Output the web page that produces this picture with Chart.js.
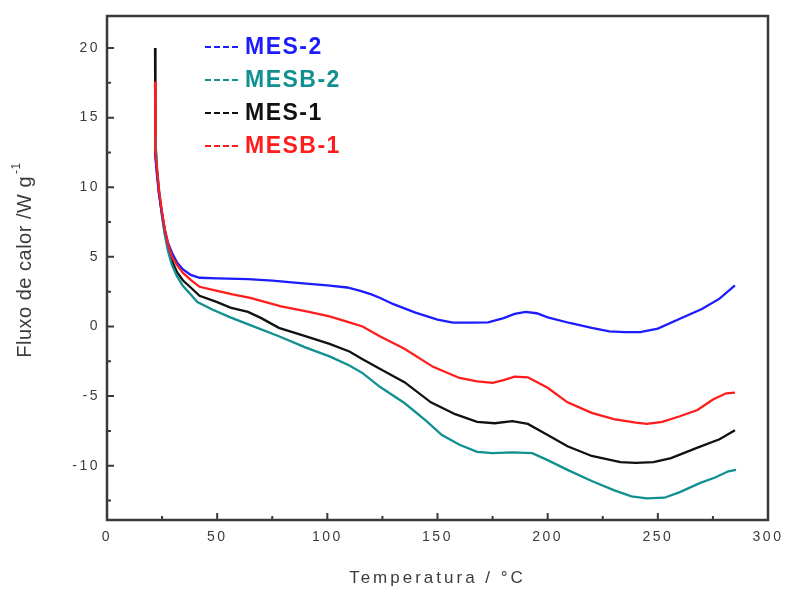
<!DOCTYPE html>
<html>
<head>
<meta charset="utf-8">
<script src="https://cdn.jsdelivr.net/npm/chart.js@4/dist/chart.umd.min.js"></script>
<style>
  html, body { margin: 0; padding: 0; background: #ffffff; }
  #wrap { width: 785px; height: 591px; }
</style>
</head>
<body>
<div id="wrap"><canvas id="c" width="785" height="591"></canvas></div>
<script>
// DSC heat-flow curves (W/g) against temperature (°C)
const seriesLabels = ['MES-2', 'MESB-2', 'MES-1', 'MESB-1'];
const seriesColors = ['#1c1cff', '#109090', '#111111', '#ff1c1c'];

const mes2Temp = [21.8, 22.6, 23.6, 24.9, 26.2, 27.7, 29.5, 31.8, 34.5, 38, 42, 50, 64, 75, 89, 100, 109, 115, 120, 124, 130, 140, 150, 157, 165, 173, 180, 185, 190, 195, 200, 210, 220, 228, 235, 242, 250, 260, 270, 278, 285];
const mes2Flow = [12.5, 11.0, 9.5, 8.2, 7.0, 6.0, 5.3, 4.6, 4.1, 3.7, 3.5, 3.45, 3.4, 3.3, 3.1, 2.95, 2.8, 2.55, 2.3, 2.05, 1.6, 1.0, 0.5, 0.27, 0.27, 0.3, 0.6, 0.9, 1.05, 0.95, 0.65, 0.25, -0.1, -0.35, -0.4, -0.4, -0.15, 0.55, 1.25, 2.0, 2.95];

const mesb2Temp = [21.8, 22.5, 22.7, 23.3, 24, 24.9, 26.2, 27.7, 29.5, 31.8, 34.5, 38, 41, 48, 56, 65, 78, 90, 101, 110, 116, 124, 135, 145, 152, 160, 168, 175, 184, 193, 200, 209, 220, 230, 238, 245, 253, 260, 269, 276, 282, 285.5];
const mesb2Flow = [13.5, 12.2, 11.3, 10.3, 9.2, 8.0, 6.6, 5.4, 4.4, 3.6, 2.9, 2.3, 1.75, 1.2, 0.65, 0.1, -0.7, -1.5, -2.15, -2.8, -3.35, -4.35, -5.5, -6.8, -7.8, -8.5, -9.0, -9.1, -9.05, -9.1, -9.6, -10.3, -11.1, -11.75, -12.2, -12.35, -12.3, -11.9, -11.25, -10.85, -10.4, -10.3];

const mes1Temp = [21.8, 21.8, 22.2, 22.8, 23.6, 24.9, 26.2, 27.7, 29.5, 31.8, 34.5, 38, 42, 50, 56, 64, 70, 78, 90, 101, 110, 116, 124, 135, 147, 158, 168, 176, 184, 191, 200, 209, 220, 233, 240, 248, 256, 268, 278, 285];
const mes1Flow = [20.0, 14.8, 12.3, 11.0, 9.6, 8.1, 6.8, 5.7, 4.7, 3.9, 3.3, 2.8, 2.2, 1.75, 1.35, 1.05, 0.6, -0.1, -0.7, -1.25, -1.8, -2.35, -3.05, -4.0, -5.45, -6.3, -6.85, -6.95, -6.8, -7.0, -7.8, -8.6, -9.3, -9.75, -9.8, -9.75, -9.45, -8.7, -8.1, -7.45];

const mesb1Temp = [21.8, 21.8, 22.2, 22.8, 23.6, 24.9, 26.2, 27.7, 29.5, 31.8, 34.5, 38, 42, 50, 57, 65, 79, 90, 101, 110, 116, 124, 135, 148, 160, 168, 175, 180, 185, 191, 200, 209, 220, 230, 240, 245, 252, 260, 268, 275, 281, 285];
const mesb1Flow = [17.6, 15.6, 12.5, 11.2, 9.8, 8.3, 7.0, 5.9, 5.0, 4.4, 3.85, 3.35, 2.85, 2.55, 2.3, 2.05, 1.45, 1.1, 0.72, 0.3, 0.0, -0.72, -1.6, -2.9, -3.7, -3.95, -4.05, -3.85, -3.6, -3.65, -4.4, -5.45, -6.2, -6.65, -6.9, -7.0, -6.85, -6.45, -6.0, -5.25, -4.8, -4.75];

const xTickStep = 50;
const yTickStep = 5;
const xMin = 0, xMax = 300;
const yMin = -13.9, yMax = 22.3;

const xTitle = 'Temperatura / °C';
const yTitle = 'Fluxo de calor /W g';
const yTitleSup = '-1';

function toPoints(xs, ys) {
  return xs.map((x, i) => ({ x: x, y: ys[i] }));
}

const seriesData = [
  toPoints(mes2Temp, mes2Flow),
  toPoints(mesb2Temp, mesb2Flow),
  toPoints(mes1Temp, mes1Flow),
  toPoints(mesb1Temp, mesb1Flow)
];

const FONT = 'Arial, "Liberation Sans", sans-serif';
const AXIS_COLOR = '#3c3c3c';
const TICK_SPACING = '2.5px';

// wide letter spacing used for the axis tick labels
const spacingPlugin = {
  id: 'spacing',
  beforeUpdate(chart) { chart.ctx.letterSpacing = TICK_SPACING; },
  beforeLayout(chart) { chart.ctx.letterSpacing = TICK_SPACING; },
  beforeDraw(chart) { chart.ctx.letterSpacing = TICK_SPACING; }
};

// box frame with inward major/minor tick marks, and the axis titles
const framePlugin = {
  id: 'frame',
  afterDraw(chart) {
    const ctx = chart.ctx;
    const a = chart.chartArea;
    const xs = chart.scales.x, ys = chart.scales.y;
    ctx.save();
    ctx.letterSpacing = '0px';
    ctx.strokeStyle = '#3a3a3a';
    ctx.lineWidth = 2.5;
    ctx.strokeRect(a.left, a.top, a.right - a.left, a.bottom - a.top);

    ctx.lineWidth = 2;
    ctx.beginPath();
    for (let v = xMin; v <= xMax + 1e-9; v += xTickStep / 2) {
      const px = xs.getPixelForValue(v);
      const major = Math.abs(v / xTickStep - Math.round(v / xTickStep)) < 1e-6;
      const len = major ? 7 : 4;
      ctx.moveTo(px, a.bottom);
      ctx.lineTo(px, a.bottom - len);
    }
    const yStart = Math.ceil(yMin / (yTickStep / 2)) * (yTickStep / 2);
    for (let v = yStart; v <= yMax + 1e-9; v += yTickStep / 2) {
      const py = ys.getPixelForValue(v);
      const major = Math.abs(v / yTickStep - Math.round(v / yTickStep)) < 1e-6;
      const len = major ? 7 : 4;
      ctx.moveTo(a.left, py);
      ctx.lineTo(a.left + len, py);
    }
    ctx.stroke();

    // x axis title
    ctx.fillStyle = AXIS_COLOR;
    ctx.letterSpacing = '3px';
    ctx.font = '17px ' + FONT;
    ctx.textAlign = 'center';
    ctx.textBaseline = 'middle';
    ctx.fillText(xTitle, (a.left + a.right) / 2, 578);

    // y axis title with superscript
    ctx.letterSpacing = '0.5px';
    ctx.translate(25, 260);
    ctx.rotate(-Math.PI / 2);
    ctx.font = '20px ' + FONT;
    const mainW = ctx.measureText(yTitle).width;
    ctx.font = '12px ' + FONT;
    const supW = ctx.measureText(yTitleSup).width;
    const total = mainW + supW + 2;
    ctx.textAlign = 'left';
    ctx.font = '20px ' + FONT;
    ctx.fillText(yTitle, -total / 2, 0);
    ctx.font = '12px ' + FONT;
    ctx.fillText(yTitleSup, -total / 2 + mainW + 2, -8);
    ctx.restore();
  }
};

// legend drawn inside the plot area, dashed sample + bold coloured label
const legendPlugin = {
  id: 'insideLegend',
  afterDraw(chart) {
    const ctx = chart.ctx;
    const a = chart.chartArea;
    ctx.save();
    chart.data.datasets.forEach((ds, i) => {
      const y = a.top + 31 + i * 33;
      const x0 = a.left + 98;
      ctx.strokeStyle = ds.borderColor;
      ctx.lineWidth = 2;
      ctx.setLineDash([6, 3]);
      ctx.beginPath();
      ctx.moveTo(x0, y);
      ctx.lineTo(x0 + 33, y);
      ctx.stroke();
      ctx.setLineDash([]);
      ctx.fillStyle = ds.borderColor;
      ctx.letterSpacing = '1.5px';
      ctx.font = 'bold 23px ' + FONT;
      ctx.textAlign = 'left';
      ctx.textBaseline = 'middle';
      ctx.fillText(ds.label, x0 + 40, y + 1);
    });
    ctx.restore();
  }
};

new Chart(document.getElementById('c'), {
  type: 'line',
  data: {
    datasets: seriesLabels.map((label, i) => ({
      label: label,
      data: seriesData[i],
      borderColor: seriesColors[i],
      backgroundColor: seriesColors[i],
      borderWidth: 2.3,
      pointRadius: 0,
      tension: 0,
      fill: false,
      order: label === 'MESB-1' ? 0 : 1
    }))
  },
  options: {
    responsive: false,
    animation: false,
    devicePixelRatio: 1,
    layout: { padding: { top: 16, right: 17, left: 0, bottom: 0 } },
    plugins: {
      legend: { display: false },
      tooltip: { enabled: false }
    },
    scales: {
      x: {
        type: 'linear',
        min: xMin,
        max: xMax,
        grid: { display: false, drawTicks: false },
        border: { display: false },
        ticks: {
          stepSize: xTickStep,
          includeBounds: false,
          maxRotation: 0,
          padding: 9,
          color: AXIS_COLOR,
          font: { family: FONT, size: 14 }
        },
        afterFit(s) { s.height = 71; s.paddingLeft = 0; s.paddingRight = 0; }
      },
      y: {
        type: 'linear',
        min: yMin,
        max: yMax,
        grid: { display: false, drawTicks: false },
        border: { display: false },
        ticks: {
          stepSize: yTickStep,
          includeBounds: false,
          padding: 7,
          color: AXIS_COLOR,
          font: { family: FONT, size: 14 }
        },
        afterFit(s) { s.width = 107; s.paddingTop = 0; s.paddingBottom = 0; }
      }
    }
  },
  plugins: [spacingPlugin, framePlugin, legendPlugin]
});
</script>
</body>
</html>
